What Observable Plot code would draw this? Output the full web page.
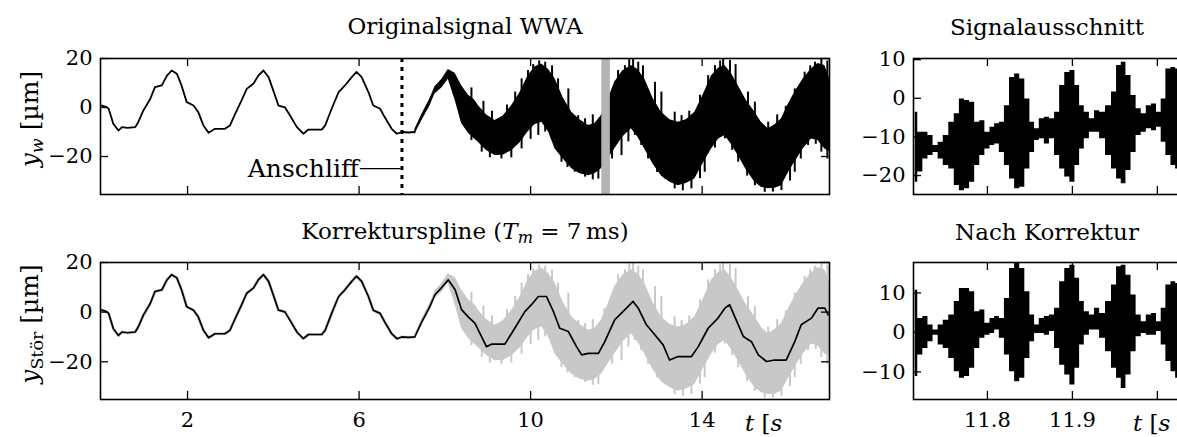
<!DOCTYPE html>
<html><head><meta charset="utf-8">
<script src="https://cdn.jsdelivr.net/npm/d3@7"></script>
<script src="https://cdn.jsdelivr.net/npm/@observablehq/plot@0.6"></script>
<style>
body{margin:0;background:#fff;}
#c{position:relative;width:1177px;height:437px;overflow:hidden;font-family:"DejaVu Serif",serif;color:#000;}
.p{position:absolute;}
.tt{position:absolute;font-size:23px;line-height:23px;white-space:nowrap;transform:translate(-50%,-50%);}
.yl{position:absolute;font-size:25px;line-height:25px;white-space:nowrap;transform:translate(-50%,-50%) rotate(-90deg);}
.xl{position:absolute;font-size:23px;line-height:23px;white-space:nowrap;transform:translate(0,-50%);}
sub{font-size:70%;vertical-align:-0.3em;line-height:0;}
</style></head><body><div id="c"></div><script>
// ---- Originalsignal (smooth part, t in s, y in µm)
const origT = [0.00,0.10,0.16,0.27,0.39,0.47,0.60,0.78,0.85,0.97,1.13,1.24,1.40,1.52,1.63,1.75,1.86,1.98,2.14,2.25,2.37,2.49,2.64,2.87,2.99,3.11,3.26,3.38,3.54,3.65,3.77,3.89,4.00,4.12,4.27,4.39,4.55,4.70,4.82,5.13,5.21,5.36,5.52,5.67,5.83,5.94,6.06,6.22,6.33,6.49,6.60,6.76,6.88,7.00,7.15,7.30];
const origV = [0.8,0.3,-0.5,-6.7,-9.4,-8.0,-8.3,-8.0,-6.0,-1.2,3.5,8.3,9.0,13.0,15.1,13.8,9.0,2.2,0.8,-1.9,-7.3,-10.3,-8.7,-8.7,-7.3,-2.6,2.9,7.6,9.8,13.0,15.1,12.4,6.9,0.8,0.1,-3.3,-8.0,-10.7,-9.0,-9.0,-7.3,-0.5,6.2,9.0,12.4,14.5,12.4,6.2,0.8,-0.5,-4.0,-8.7,-10.7,-10.0,-10.2,-10.0];
// ---- Originalsignal after grinding: envelope of the dense oscillation
const bandT  = [7.30,7.46,7.65,7.77,7.93,8.08,8.24,8.39,8.55,8.70,8.78,8.97,9.17,9.36,9.56,9.75,9.94,10.10,10.26,10.42,10.57,10.76,10.96,11.15,11.35,11.50,11.65,11.80,11.96,12.15,12.35,12.50,12.66,12.85,13.05,13.25,13.44,13.63,13.83,14.02,14.22,14.38,14.53,14.68,14.84,15.03,15.23,15.38,15.54,15.70,15.85,16.00,16.16,16.35,16.55,16.70,16.86,16.97];
const bandHi = [-9.0,-3.0,3.5,8.5,11.5,15.5,14.0,9.0,5.0,3.0,0.8,-3.0,-5.3,-3.5,0.8,6.0,13.0,16.5,17.8,15.5,11.7,4.0,-1.9,-5.0,-7.3,-6.5,-3.3,3.0,10.3,15.0,17.1,15.5,11.7,4.0,-1.9,-5.0,-6.0,-5.0,-1.9,5.0,13.0,16.0,17.1,14.0,9.0,3.0,-1.9,-6.0,-8.7,-7.0,-4.6,1.0,6.2,11.5,15.8,18.0,17.1,12.0];
const bandLo = [-11.0,-5.5,0.5,5.5,8.0,11.5,3.0,-6.5,-10.5,-13.0,-14.2,-17.5,-19.6,-19.5,-17.6,-14.5,-10.0,-7.0,-6.0,-10.0,-16.9,-21.0,-25.0,-27.0,-27.8,-27.0,-25.0,-21.0,-16.9,-12.0,-8.7,-12.0,-16.9,-23.0,-28.0,-30.5,-31.9,-31.0,-29.2,-23.0,-16.9,-13.0,-11.4,-15.0,-19.6,-25.5,-30.5,-32.5,-33.2,-33.0,-31.9,-27.0,-22.3,-17.0,-12.8,-13.5,-16.9,-18.0];
// ---- single spikes sticking out of the band: time, inner end, tip
const spikeUpT   = [8.62,8.90,9.10,9.45,9.64,9.79,9.94,10.06,10.20,10.34,10.50,10.64,10.88,11.11,11.27,11.45,11.72,11.89,12.04,12.20,12.30,12.39,12.51,12.62,12.90,13.05,13.36,13.52,13.70,13.95,14.14,14.30,14.42,14.49,14.65,14.78,15.07,15.23,15.54,15.75,15.95,16.16,16.39,16.52,16.63,16.78,16.92];
const spikeUpTip = [8.0,2.5,-1.5,1.0,6.3,11.7,15.1,17.5,19.0,18.5,17.0,11.7,7.6,-3.3,-4.6,-3.0,1.5,4.9,15.1,17.1,19.5,19.6,18.5,17.0,10.3,6.3,-1.9,-3.3,-1.5,5.0,13.0,17.1,19.0,19.6,19.2,17.5,6.3,2.2,-6.0,-3.0,0.5,7.6,14.4,17.0,18.5,19.9,19.0];
const spikeDnT   = [8.62,8.86,9.05,9.32,9.55,9.79,10.00,10.18,10.34,10.49,10.72,10.86,11.03,11.27,11.45,11.58,11.90,12.12,12.28,12.43,12.58,12.74,12.95,13.13,13.36,13.55,13.75,13.95,14.06,14.30,14.53,14.70,14.84,15.05,15.23,15.46,15.65,15.85,16.05,16.16,16.30,16.47,16.65,16.78,16.92];
const spikeDnTip = [-13.5,-18.2,-20.5,-21.0,-20.5,-16.9,-13.0,-11.4,-10.0,-12.8,-22.3,-24.5,-26.4,-28.4,-29.5,-29.2,-21.0,-19.6,-14.0,-11.4,-15.5,-21.0,-26.5,-29.2,-33.2,-34.0,-33.2,-29.0,-26.4,-16.5,-12.8,-17.5,-22.3,-28.0,-31.9,-34.6,-34.5,-33.9,-30.0,-26.4,-21.0,-15.5,-15.0,-18.2,-21.0];
// ---- Korrekturspline after t = 7.3 s (before it follows the original signal)
const splineLateT = [7.46,7.65,7.77,7.93,8.08,8.24,8.39,8.55,8.70,8.97,9.09,9.40,9.63,9.87,10.02,10.18,10.37,10.53,10.68,10.88,11.07,11.19,11.35,11.58,11.73,11.96,12.20,12.39,12.51,12.70,12.93,13.09,13.24,13.44,13.75,13.91,14.14,14.37,14.53,14.64,14.76,14.96,15.15,15.31,15.50,15.69,15.96,16.16,16.31,16.55,16.70,16.86,16.94];
const splineLateV = [-4.0,2.2,7.0,10.0,13.0,9.0,1.0,-2.0,-4.4,-13.9,-12.9,-12.9,-6.5,0.3,3.0,6.3,6.3,0.3,-6.5,-7.8,-13.9,-17.2,-16.6,-16.6,-11.9,-3.1,1.0,4.3,1.6,-5.1,-9.8,-13.2,-19.3,-17.9,-17.9,-13.9,-6.5,-2.4,1.6,3.0,-1.8,-9.8,-11.9,-17.2,-19.9,-19.3,-19.3,-11.9,-5.1,-2.4,1.6,1.6,-1.1];
// ---- excerpt and annotation
const excerpt = [11.66, 11.86];
const grindTime = 7.0;
const note = {t: 5.99, v: -24.9, label: "Anschliff", from: 6.03, to: 6.98};
// ---- Signalausschnitt / Nach Korrektur (envelopes)
const zT  = [11.715,11.721,11.727,11.733,11.739,11.745,11.751,11.758,11.764,11.770,11.776,11.782,11.788,11.794,11.800,11.806,11.811,11.817,11.823,11.829,11.835,11.841,11.847,11.853,11.858,11.864,11.870,11.876,11.882,11.888,11.894,11.900,11.906,11.911,11.917,11.923,11.929,11.935,11.943,11.949,11.955,11.960,11.966,11.972,11.978,11.984,11.990,11.996,12.002,12.007,12.013,12.019,12.024];
const trHi = [-3.6,-8.8,-8.8,-9.6,-12.2,-11.4,-9.6,-6.2,-4.0,-0.2,-0.6,-1.0,-6.2,-5.8,-8.8,-7.5,-6.6,-6.2,-1.9,5.4,6.3,5.0,-0.2,-6.2,-7.9,-5.3,-4.9,-5.3,-3.6,3.3,6.7,7.2,3.3,-1.9,-3.6,-5.3,-3.2,-3.6,-1.9,1.6,8.5,9.3,5.9,0.7,-2.7,-4.0,-1.9,-1.5,-3.6,-0.2,7.6,8.0,7.6];
const trLo = [-21.7,-19.1,-15.7,-14.8,-14.0,-15.7,-17.4,-18.3,-22.6,-23.9,-23.4,-21.7,-17.4,-14.8,-13.1,-12.2,-11.8,-14.0,-17.4,-20.9,-23.4,-23.0,-18.3,-14.0,-10.9,-10.5,-11.8,-10.5,-14.8,-18.3,-20.4,-21.7,-17.4,-13.1,-10.5,-8.8,-8.8,-10.5,-14.8,-18.3,-20.9,-22.1,-18.7,-14.0,-9.6,-8.8,-7.9,-8.4,-7.5,-11.4,-14.8,-17.4,-18.3];
const brHi = [10.7,3.5,4.0,1.9,0.6,1.9,3.1,4.4,7.8,11.1,11.1,10.3,5.2,5.7,2.3,3.5,4.0,3.5,8.6,16.2,17.5,16.2,10.3,4.4,1.9,3.5,4.0,4.4,6.1,12.8,16.2,17.0,13.7,7.8,5.2,4.4,6.1,4.8,7.8,12.0,16.6,17.0,14.5,9.5,4.4,2.7,4.4,4.8,2.7,6.1,12.0,12.8,12.4];
const brLo = [-11.2,-5.7,-4.1,-2.4,-0.7,-3.2,-4.1,-6.6,-10.0,-11.6,-11.2,-9.1,-4.1,-1.5,-0.7,-0.3,0.6,-1.5,-5.7,-10.0,-12.5,-11.6,-6.6,-2.4,-0.3,-0.3,-0.7,0.2,-4.1,-8.3,-10.8,-13.3,-9.1,-3.2,-0.7,0.6,0.6,-1.5,-4.9,-9.1,-11.6,-14.2,-10.8,-4.9,-1.1,-0.3,-0.7,-0.7,0.2,-3.2,-7.4,-10.0,-11.6];
// ---- ticks
const xTicksL = [2, 6, 10, 14];
const yTicksL = [20, 0, -20];
const xTicksR = [11.8, 11.9, 12.0];
const xLabelsR = [11.8, 11.9];
const yTicksTR = [10, 0, -10, -20];
const yTicksBR = [10, 0, -10];

const orig = origT.map((t, i) => ({t, v: origV[i]}));
const band = bandT.map((t, i) => ({t, hi: bandHi[i], lo: bandLo[i]}));
const spline = orig.concat(splineLateT.map((t, i) => ({t, v: splineLateV[i]})));
const tr = zT.map((t, i) => ({t, hi: trHi[i], lo: trLo[i]}));
const br = zT.map((t, i) => ({t, hi: brHi[i], lo: brLo[i]}));
// spikes run from the band edge (interpolated envelope) to their tip
const edge = (arr, t) => { let i = bandT.findIndex(x => x >= t); if (i <= 0) return arr[0]; const a = bandT[i-1], b = bandT[i]; return arr[i-1] + (arr[i]-arr[i-1]) * (t-a)/(b-a); };
const spikes = spikeUpT.map((t, i) => ({t, a: edge(bandHi, t) - 2, b: spikeUpTip[i]}))
  .concat(spikeDnT.map((t, i) => ({t, a: edge(bandLo, t) + 2, b: spikeDnTip[i]})));

const fmt = d => (d < 0 ? "\u2212" + Math.abs(d) : String(d));
const C = document.getElementById("c");

function panel({left, top, width, height, ml, mt, mr, mb, xDomain, yDomain, xTicks, xLabels, yTicks, marks}) {
  const [x0, x1] = xDomain, [y0, y1] = yDomain;
  const fw = width - ml - mr, fh = height - mt - mb, L = 8;
  const dx = (x1 - x0) * L / fw, dy = (y1 - y0) * L / fh;
  const tk = {stroke: "black", strokeWidth: 1.3};
  const svg = Plot.plot({
    width, height, marginLeft: ml, marginTop: mt, marginRight: mr, marginBottom: mb,
    x: {domain: xDomain, axis: null}, y: {domain: yDomain, axis: null},
    style: {fontFamily: "DejaVu Serif", fontSize: "21px", background: "transparent", overflow: "visible", color: "black"},
    marks: [
      ...marks,
      Plot.ruleX(xTicks, {x: d => d, y1: y0, y2: y0 + dy, ...tk}),
      Plot.ruleX(xTicks, {x: d => d, y1: y1 - dy, y2: y1, ...tk}),
      Plot.ruleY(yTicks, {y: d => d, x1: x0, x2: x0 + dx, ...tk}),
      Plot.ruleY(yTicks, {y: d => d, x1: x1 - dx, x2: x1, ...tk}),
      Plot.frame({stroke: "black", strokeWidth: 1.6}),
      xLabels ? Plot.axisX(xLabels, {anchor: "bottom", tickSize: 0, tickPadding: 13, tickFormat: fmt, fontSize: 21, label: null}) : null,
      Plot.axisY(yTicks, {anchor: "left", tickSize: 0, tickPadding: 8, tickFormat: fmt, fontSize: 21, label: null})
    ]
  });
  svg.classList.add("p");
  svg.style.left = left + "px";
  svg.style.top = top + "px";
  C.appendChild(svg);
}

// Top left: Originalsignal WWA
panel({left: 0, top: 0, width: 850, height: 210, ml: 100, mt: 58, mr: 21, mb: 16,
  xDomain: [-0.03, 16.97], yDomain: [-35.5, 20], xTicks: xTicksL, yTicks: yTicksL,
  marks: [
    Plot.line(orig, {x: "t", y: "v", stroke: "black", strokeWidth: 1.8}),
    Plot.areaY(band, {x: "t", y1: "lo", y2: "hi", fill: "black"}),
    Plot.ruleX(spikes, {x: "t", y1: "a", y2: "b", stroke: "black", strokeWidth: 2}),
    Plot.rectX([excerpt], {x1: d => d[0], x2: d => d[1], fill: "#b4b4b4"}),
    Plot.ruleX([grindTime], {stroke: "black", strokeWidth: 3, strokeDasharray: "4,5"}),
    Plot.text([note], {x: "t", y: "v", text: "label", textAnchor: "end", fontSize: 25, fontFamily: "DejaVu Serif"}),
    Plot.ruleY([note], {y: "v", x1: "from", x2: "to", stroke: "black", strokeWidth: 1.2})
  ]});

// Bottom left: Korrekturspline
panel({left: 0, top: 210, width: 850, height: 227, ml: 100, mt: 52, mr: 21, mb: 38,
  xDomain: [-0.03, 16.97], yDomain: [-35.2, 20], xTicks: xTicksL, xLabels: xTicksL, yTicks: yTicksL,
  marks: [
    Plot.line(orig, {x: "t", y: "v", stroke: "#c8c8c8", strokeWidth: 3}),
    Plot.areaY(band, {x: "t", y1: "lo", y2: "hi", fill: "#c8c8c8"}),
    Plot.ruleX(spikes, {x: "t", y1: "a", y2: "b", stroke: "#c8c8c8", strokeWidth: 2}),
    Plot.line(spline, {x: "t", y: "v", stroke: "black", strokeWidth: 1.7})
  ]});

// Top right: Signalausschnitt
panel({left: 830, top: 0, width: 360, height: 210, ml: 83, mt: 58, mr: 0, mb: 16,
  xDomain: [11.713, 12.039], yDomain: [-24.9, 10.3], xTicks: xTicksR, yTicks: yTicksTR,
  marks: [
    Plot.areaY(tr, {x: "t", y1: "lo", y2: "hi", fill: "black", curve: "step"})
  ]});

// Bottom right: Nach Korrektur
panel({left: 830, top: 210, width: 360, height: 227, ml: 83, mt: 52, mr: 0, mb: 38,
  xDomain: [11.713, 12.039], yDomain: [-17, 17.7], xTicks: xTicksR, xLabels: xLabelsR, yTicks: yTicksBR,
  marks: [
    Plot.areaY(br, {x: "t", y1: "lo", y2: "hi", fill: "black", curve: "step"})
  ]});

function add(cls, html, x, y) {
  const d = document.createElement("div");
  d.className = cls; d.innerHTML = html;
  d.style.left = x + "px"; d.style.top = y + "px";
  C.appendChild(d);
}
add("tt", "Originalsignal WWA", 465, 26);
add("tt", "Signalausschnitt", 1047, 27);
add("tt", "Korrekturspline (<i>T</i><sub><i>m</i></sub> = 7\u2009ms)", 465, 231);
add("tt", "Nach Korrektur", 1047, 232);
add("yl", "<i>y</i><sub><i>w</i></sub> [\u00b5m]", 29, 119);
add("yl", "<i>y</i><sub>St\u00f6r</sub> [\u00b5m]", 29, 324);
add("xl", "<i>t</i> [<i>s</i>", 745, 423);
add("xl", "<i>t</i> [<i>s</i>", 1133, 423);
</script></body></html>
